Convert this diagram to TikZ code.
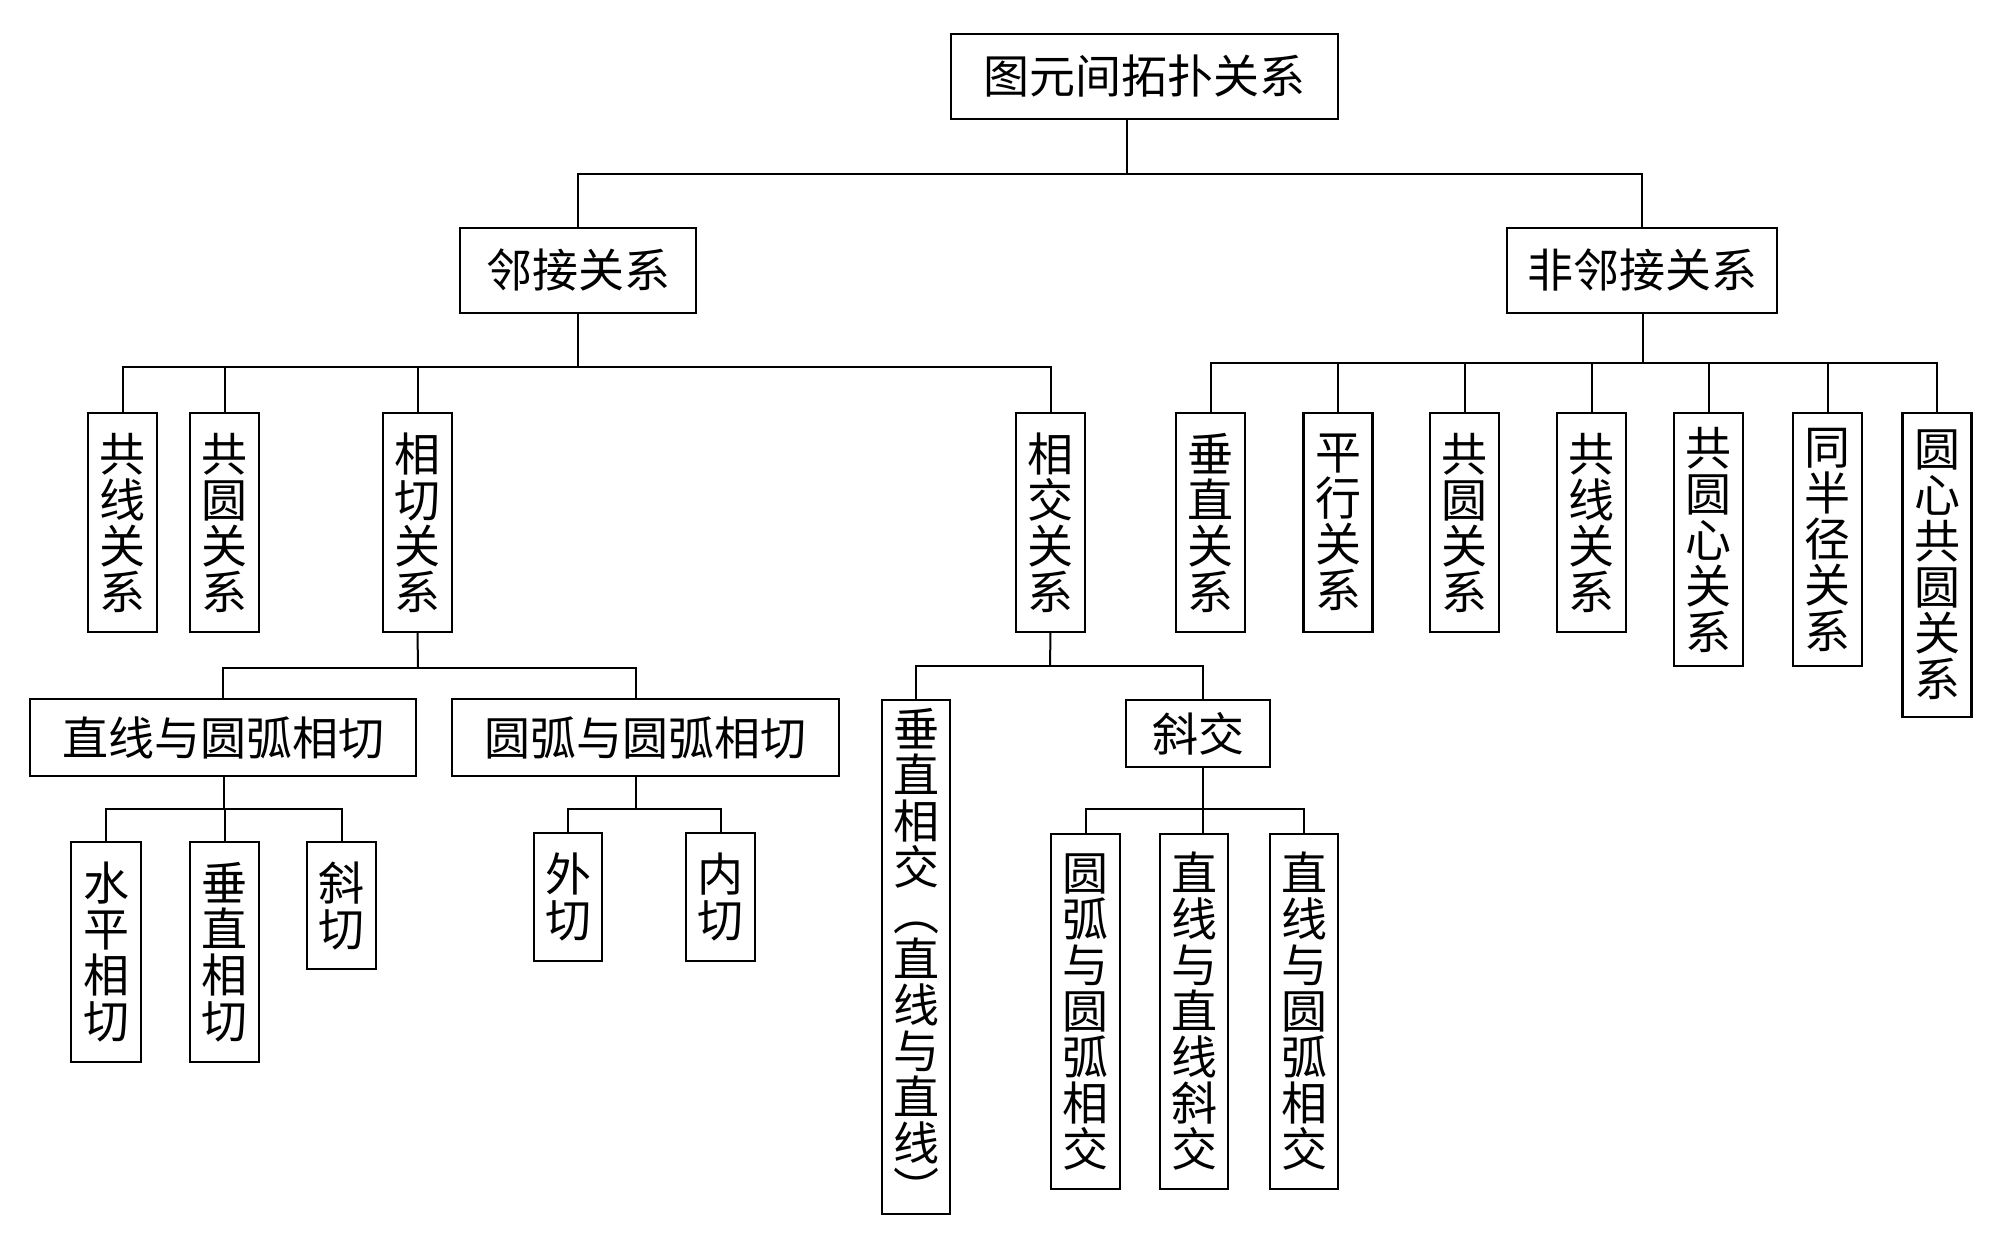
\documentclass[tikz,border=0pt]{standalone}
\usepackage{fontspec}
\newfontfamily\cjk{Noto Sans CJK SC}
\begin{document}
\begin{tikzpicture}[x=0.5pt,y=-0.5pt,
  box/.style={draw, line width=1.4pt, inner sep=0pt, outer sep=0pt, align=center,
    font=\cjk\fontsize{23}{23}\selectfont},
  sz/.style 2 args={minimum width=#1*0.5pt, minimum height=#2*0.5pt},
  conn/.style={line width=1pt}]
\useasboundingbox (0,0) rectangle (2000,1244);
% level 0
\node[box, sz={387}{85}] (root) at (1144.5,76.5) {图元间拓扑关系};
% level 1
\node[box, sz={236}{85}] (adj) at (578,270.5) {邻接关系};
\node[box, sz={270}{85}] (nadj) at (1642,270.5) {非邻接关系};
% level 2 left
\node[box, sz={69}{219}] (a1) at (122.5,522.5) {共\\线\\关\\系};
\node[box, sz={69}{219}] (a2) at (224.5,522.5) {共\\圆\\关\\系};
\node[box, sz={69}{219}] (a3) at (417.5,522.5) {相\\切\\关\\系};
\node[box, sz={69}{219}] (a4) at (1050.5,522.5) {相\\交\\关\\系};
% level 2 right
\node[box, sz={69}{219}] (n1) at (1210.5,522.5) {垂\\直\\关\\系};
\node[box, sz={69}{219}] (n2) at (1338,522.5) {平\\行\\关\\系};
\node[box, sz={69}{219}] (n3) at (1464.5,522.5) {共\\圆\\关\\系};
\node[box, sz={69}{219}] (n4) at (1591.5,522.5) {共\\线\\关\\系};
\node[box, sz={69}{253}] (n5) at (1708.5,539.5) {共\\圆\\心\\关\\系};
\node[box, sz={69}{253}] (n6) at (1827.5,539.5) {同\\半\\径\\关\\系};
\node[box, sz={69}{304}] (n7) at (1937,565) {圆\\心\\共\\圆\\关\\系};
% level 3
\node[box, sz={386}{77}] (t1) at (223,737.5) {直线与圆弧相切};
\node[box, sz={387}{77}] (t2) at (645.5,737.5) {圆弧与圆弧相切};
\node[box, sz={68}{514}] (i1) at (916,957) {垂\\直\\相\\交\\︵\\直\\线\\与\\直\\线\\︶};
\node[box, sz={144}{67}] (i2) at (1198,733.5) {斜交};
% level 4
\node[box, sz={70}{220}] (h1) at (106,952) {水\\平\\相\\切};
\node[box, sz={69}{220}] (h2) at (224.5,952) {垂\\直\\相\\切};
\node[box, sz={69}{127}] (h3) at (341.5,905.5) {斜\\切};
\node[box, sz={68}{128}] (w1) at (568,897) {外\\切};
\node[box, sz={69}{128}] (w2) at (720.5,897) {内\\切};
\node[box, sz={69}{355}] (x1) at (1085.5,1011.5) {圆\\弧\\与\\圆\\弧\\相\\交};
\node[box, sz={68}{355}] (x2) at (1194,1011.5) {直\\线\\与\\直\\线\\斜\\交};
\node[box, sz={68}{355}] (x3) at (1304,1011.5) {直\\线\\与\\圆\\弧\\相\\交};
% bus coordinates
\coordinate (rb) at (1127,174);
\coordinate (ab) at (578,367);
\coordinate (nb) at (1643,363);
\coordinate (sb) at (418,668);
\coordinate (t2c) at (636,700);
\coordinate (xb) at (1050,666);
\coordinate (xk) at (1203,700);
\coordinate (tb1) at (224,809);
\coordinate (tb2) at (636,809);
\coordinate (ib) at (1203,809);
% connectors
\draw[conn] (root.south -| rb) -- (rb);
\draw[conn] (adj.north) |- (rb) -| (nadj.north);
\draw[conn] (adj.south) -- (ab);
\draw[conn] (a1.north) |- (ab) -| (a4.north);
\draw[conn] (a2.north) -- (a2.north |- ab);
\draw[conn] (a3.north) -- (a3.north |- ab);
\draw[conn] (nadj.south -| nb) -- (nb);
\draw[conn] (n1.north) |- (nb) -| (n7.north);
\draw[conn] (n2.north) -- (n2.north |- nb);
\draw[conn] (n3.north) -- (n3.north |- nb);
\draw[conn] (n4.north) -- (n4.north |- nb);
\draw[conn] (n5.north) -- (n5.north |- nb);
\draw[conn] (n6.north) -- (n6.north |- nb);
\draw[conn] (a3.south) -- (sb);
\draw[conn] (t1.north) |- (sb) -| (t2.north -| t2c);
\draw[conn] (a4.south) -- (xb);
\draw[conn] (i1.north) |- (xb) -| (i2.north -| xk);
\draw[conn] (t1.south -| tb1) -- (tb1);
\draw[conn] (h1.north) |- (tb1) -| (h3.north);
\draw[conn] (h2.north) -- (h2.north |- tb1);
\draw[conn] (t2.south -| tb2) -- (tb2);
\draw[conn] (w1.north) |- (tb2) -| (w2.north);
\draw[conn] (i2.south -| ib) -- (ib);
\draw[conn] (x1.north) |- (ib) -| (x3.north);
\draw[conn] (x2.north -| ib) -- (ib);
\end{tikzpicture}
\end{document}
